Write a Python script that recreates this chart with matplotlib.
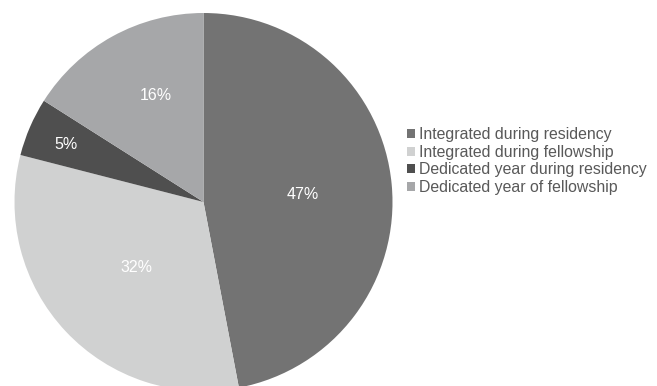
import matplotlib
matplotlib.use("Agg")
import matplotlib.pyplot as plt
import numpy as np

plt.rcParams['font.family'] = ['Liberation Sans', 'DejaVu Sans']

categories = ["Integrated during residency", "Integrated during fellowship",
              "Dedicated year during residency", "Dedicated year of fellowship"]
values = [47, 32, 5, 16]
colors = ["#737373", "#d0d1d1", "#4f4f4f", "#a6a7a9"]
label_dist = [0.525, 0.49, 0.79, 0.63]
label_angle_shift = [0, 0, 0, -5]

W, H = 657, 386
fig = plt.figure(figsize=(W / 100, H / 100), dpi=100)
cx, cy, r = 203.5, 202, 189
ax = fig.add_axes([(cx - r) / W, (H - cy - r) / H, 2 * r / W, 2 * r / H])

wedges, _ = ax.pie(values, colors=colors, startangle=90, counterclock=False,
                   radius=1, wedgeprops=dict(linewidth=0))
ax.set_xlim(-1, 1)
ax.set_ylim(-1, 1)
ax.set_aspect('equal')
ax.axis('off')

total = sum(values)
for w, v, d, s in zip(wedges, values, label_dist, label_angle_shift):
    ang = np.deg2rad((w.theta1 + w.theta2) / 2 + s)
    ax.text(d * np.cos(ang), d * np.sin(ang) - 0.012, f"{round(100 * v / total)}%",
            ha='center', va='center', color='white', fontsize=11.5)

leg = fig.legend(wedges, categories, loc='upper left',
                 bbox_to_anchor=(407 / W, 1 - 127 / H), frameon=False,
                 fontsize=11.4, handlelength=0.5, handleheight=0.5,
                 handletextpad=0.25, labelspacing=0.17, borderpad=0,
                 borderaxespad=0)
for t in leg.get_texts():
    t.set_color('#595959')

fig.savefig("out.png", dpi=100)
